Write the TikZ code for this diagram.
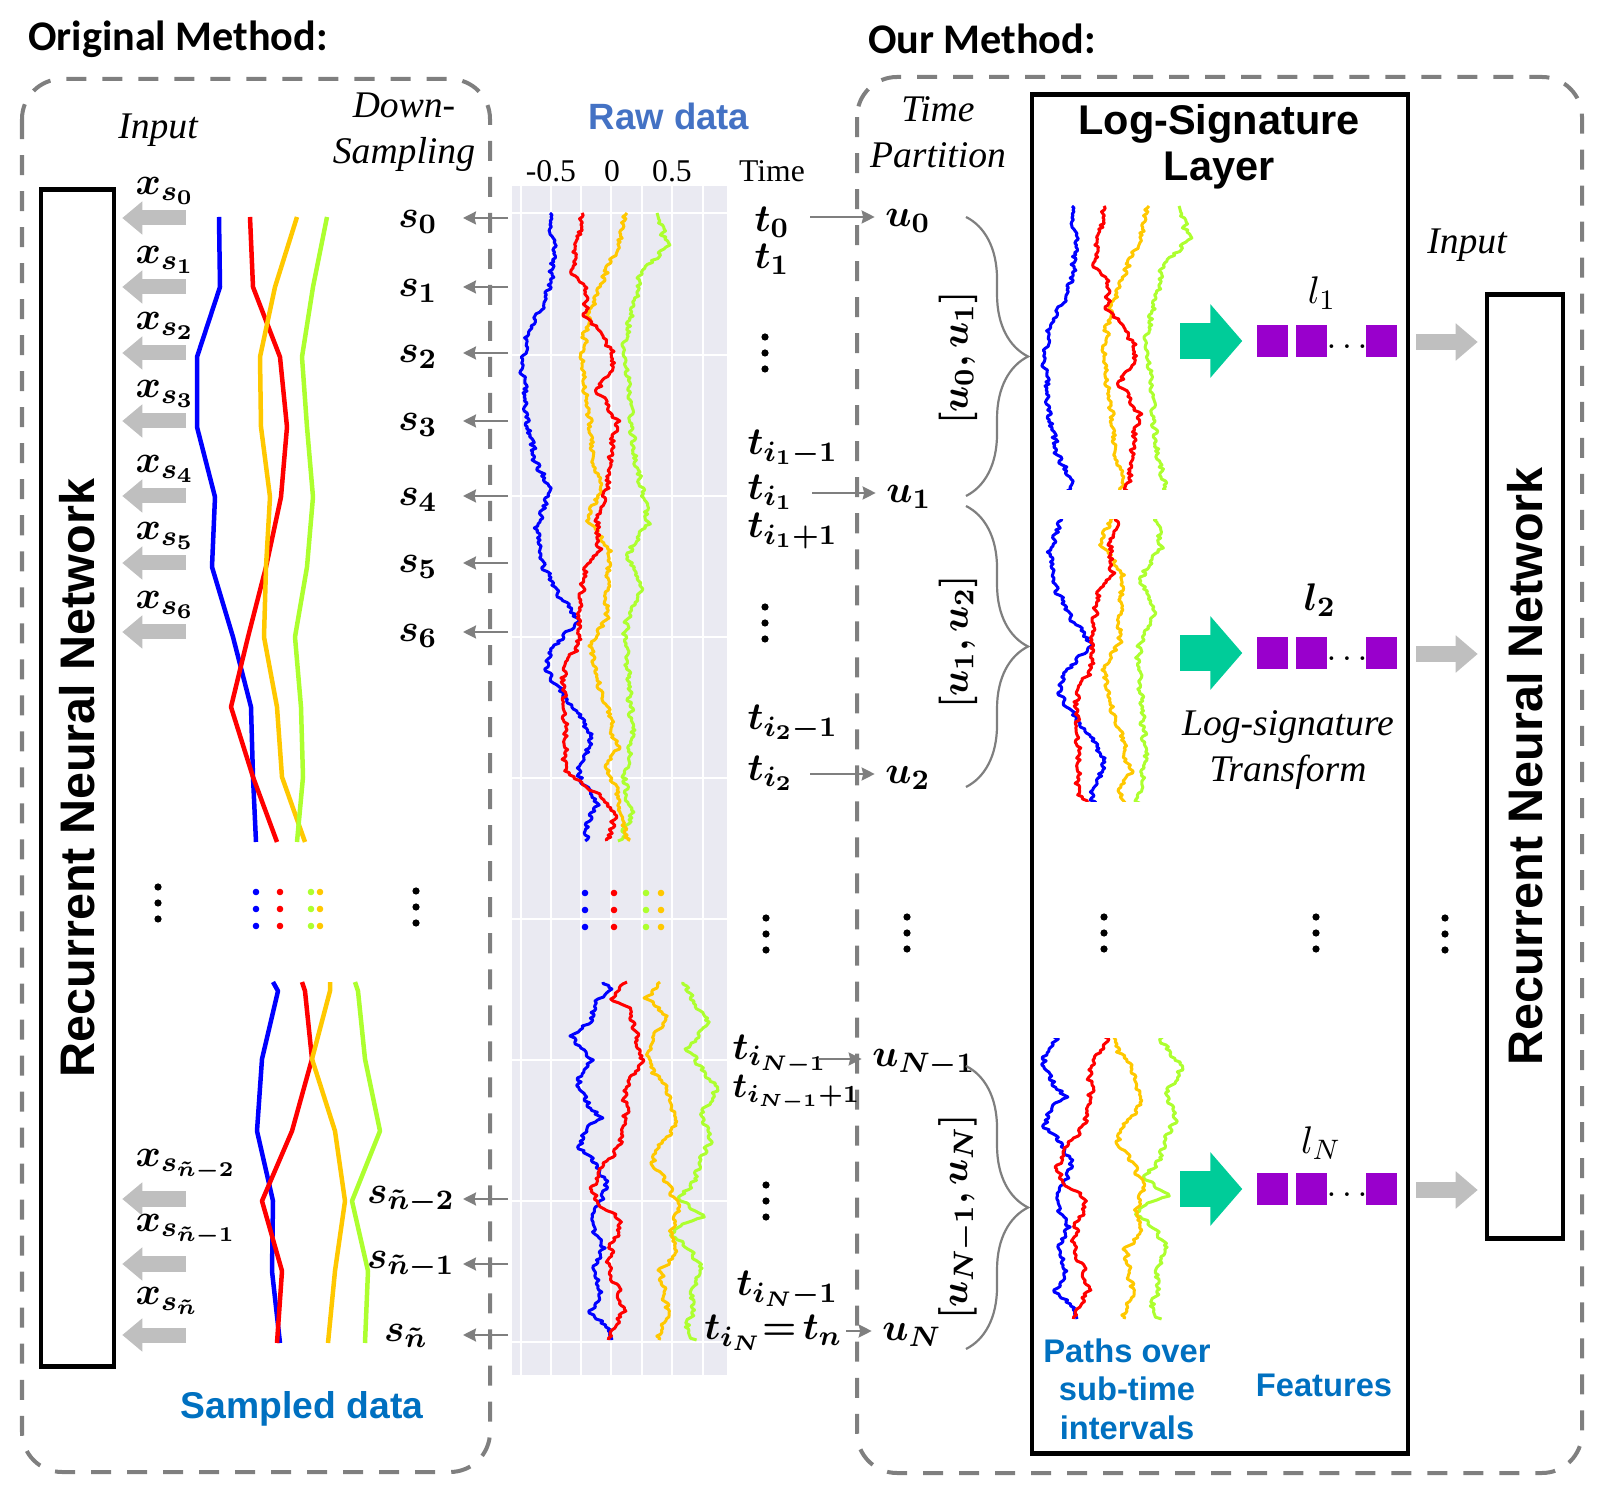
\documentclass[tikz,border=0pt]{standalone}
\usepackage{amsmath}
\usepackage{bm}
\usepackage{fontspec}
\setmainfont{Liberation Serif}
\newfontfamily\calfont{Carlito}
\newfontfamily\arfont{Liberation Sans}
\usetikzlibrary{positioning, arrows.meta, decorations.pathreplacing}

\definecolor{dgray}{HTML}{7F7F7F}
\definecolor{lgray}{HTML}{BFBFBF}
\definecolor{pblue}{HTML}{0000FF}
\definecolor{pred}{HTML}{FF0000}
\definecolor{pgold}{HTML}{FFC800}
\definecolor{plime}{HTML}{ADFF2F}
\definecolor{teal2}{HTML}{00CC99}
\definecolor{purp}{HTML}{9900CC}
\definecolor{rawblue}{HTML}{4472C4}
\definecolor{txtblue}{HTML}{0070C0}
\definecolor{plotbg}{HTML}{EAEAF2}

\newcommand\msize{\fontsize{11.2}{13}\selectfont}
\newcommand\isize{\fontsize{10.7}{13}\selectfont}
\newcommand\tsize{\fontsize{12}{14}\selectfont}

% jagged path through way points (x/y), stored in #1
\newcommand\mkwalk[4]{%
  \xdef#1{(#2,#3)}%
  \gdef\wjit{0}%
  \foreach \wx/\wy [remember=\wx as \px (initially #2), remember=\wy as \py (initially #3)] in {#4}{%
    \pgfmathtruncatemacro\nst{max(1,round(abs(\wy-\py)/2))}%
    \foreach \k in {1,...,\nst}{%
      \pgfmathsetmacro\wtmp{0.35*\wjit+2.9*rand}\xdef\wjit{\wtmp}%
      \pgfmathsetmacro\qx{\px+(\wx-\px)*\k/\nst+\wjit}%
      \pgfmathsetmacro\qy{\py+(\wy-\py)*\k/\nst}%
      \xdef#1{#1 -- (\qx,\qy)}%
    }%
  }%
}
\pgfmathsetseed{11}
% raw data, upper part
\mkwalk\wBlueA{550}{213}{553/250, 550/287, 540/310, 527/332, 522/365, 528/425, 535/460, 550/488, 537/528, 540/560, 557/591, 577/620, 553/649, 545/669, 573/707, 592/738, 578/774, 597/805, 588/823, 588/841}
\mkwalk\wRedA{582}{213}{578/240, 572/274, 588/292, 585/314, 603/336, 615/359, 598/390, 617/421, 610/457, 607/492, 598/519, 600/551, 590/560, 583/582, 578/622, 578/649, 563/662, 563/702, 567/738, 563/769, 600/796, 615/814, 608/841}
\mkwalk\wGoldA{627}{213}{618/242, 608/269, 597/296, 588/318, 582/359, 588/403, 593/448, 600/492, 587/519, 610/551, 607/582, 607/618, 590/644, 595/671, 610/716, 617/747, 607/769, 618/796, 628/841}
\mkwalk\wLimeA{657}{213}{667/247, 640/274, 632/314, 623/350, 630/394, 633/448, 643/492, 647/524, 627/555, 642/591, 625/626, 627/671, 633/738, 625/783, 632/814, 620/841}
% raw data, lower part
\mkwalk\wBlueB{603}{982}{612/989, 597/1001, 590/1022, 570/1036, 580/1046, 592/1060, 578/1080, 583/1097, 600/1118, 587/1128, 580/1147, 593/1162, 607/1183, 600/1203, 590/1224, 603/1248, 595/1268, 600/1292, 590/1311, 607/1327, 610/1340}
\mkwalk\wRedB{627}{982}{612/1001, 630/1008, 637/1036, 642/1060, 627/1087, 625/1114, 620/1142, 610/1159, 597/1169, 593/1190, 597/1203, 622/1220, 612/1244, 608/1272, 620/1292, 623/1313, 613/1330, 608/1340}
\mkwalk\wGoldB{660}{982}{647/998, 667/1018, 652/1039, 647/1063, 653/1073, 668/1090, 677/1118, 668/1135, 653/1155, 652/1166, 667/1183, 680/1207, 673/1231, 675/1251, 660/1272, 665/1292, 667/1313, 658/1340}
\mkwalk\wLimeB{683}{982}{697/1005, 708/1022, 688/1049, 700/1066, 717/1087, 702/1114, 710/1142, 697/1169, 692/1186, 678/1197, 705/1217, 680/1224, 670/1234, 693/1251, 702/1272, 690/1292, 693/1310, 687/1327, 695/1340}

\newcommand\rawtop{\draw[raw,plime] \wLimeA; \draw[raw,pgold] \wGoldA; \draw[raw,pblue] \wBlueA; \draw[raw,pred] \wRedA;}
\newcommand\rawbot{\draw[raw,plime] \wLimeB; \draw[raw,pgold] \wGoldB; \draw[raw,pblue] \wBlueB; \draw[raw,pred] \wRedB;}

\begin{document}
\begin{tikzpicture}[x=0.01cm, y=-0.01cm,
  dbox/.style={draw=dgray, line width=0.4mm, dash pattern=on 2mm off 1.6mm, rounded corners=4mm},
  rnnbox/.style={draw, line width=0.45mm, inner sep=0},
  rnntext/.style={font=\arfont\bfseries\fontsize{13.8}{15}\selectfont, rotate=90},
  bigarrow/.style={lgray, line width=1.5mm, -{Triangle[length=2mm,width=3.2mm]}},
  rarrow/.style={lgray, line width=1.6mm, -{Triangle[length=2.2mm,width=3.6mm]}},
  garrow/.style={dgray, line width=0.22mm, -{Stealth[length=1.3mm,width=1.3mm,inset=0.15mm]}},
  samp/.style={line width=0.45mm, line join=round},
  raw/.style={line width=0.3mm, line join=round},
  gline/.style={white, line width=0.15mm},
  mlab/.style={font=\msize, inner sep=0},
  itlab/.style={font=\isize\itshape, align=center, inner sep=0},
  ticklab/.style={font=\fontsize{9}{10}\selectfont, inner sep=0},
  bluetext/.style={text=txtblue, font=\arfont\bfseries\fontsize{10.6}{12}\selectfont, align=center, inner sep=0},
  smallblue/.style={bluetext, font=\arfont\bfseries\fontsize{9.3}{11}\selectfont},
  tealarrow/.style={teal2, line width=3.5mm, -{Triangle[length=3.2mm,width=7.2mm]}},
  feat/.style={fill=purp, minimum size=3.1mm, inner sep=0},
  brc/.style={dgray, line width=0.22mm, decorate, decoration={brace, amplitude=6.2mm}}]
\useasboundingbox (0,0) rectangle (1597,1486);

% titles
\node[font=\calfont\bfseries\tsize] (orig) at (178,39) {Original Method:};
\node[font=\calfont\bfseries\tsize] (ours) at (982,39) {Our Method:};
\draw[dbox] (22,79) rectangle (490,1472);
\draw[dbox] (857,77) rectangle (1582,1473);

% raw data plot
\fill[plotbg] (512,186) rectangle (727,1375);
\foreach \gx in {521,551,581,611,642,672,703} \draw[gline] (\gx,186) -- (\gx,1375);
\foreach \gy in {213,355,496,637,778,919,1060,1201,1342} \draw[gline] (512,\gy) -- (727,\gy);
\node[font=\arfont\bfseries\fontsize{10.4}{12}\selectfont, text=rawblue] (rawt) at (669,116) {Raw data};
\node[ticklab] (xm) at (551,171) {-0.5};
\node[ticklab] (xz) at (612,171) {0};
\node[ticklab] (xp) at (672,171) {0.5};
\node[ticklab] (tax) at (772,171) {Time};
\rawtop
\rawbot
\foreach \cx/\cc in {585/pblue, 614/pred, 646/plime, 661/pgold}
  \foreach \k in {0,1,2} \fill[\cc] (\cx,893+17*\k) circle[radius=0.33mm];

% left: RNN and sampled data
\node[rnnbox, minimum width=7.3mm, minimum height=117.6mm] (rnnL) at (77.5,778) {};
\node[rnntext] at (rnnL) {Recurrent Neural Network};
\node[itlab] (inL) at (158,130) {Input};
\node[itlab] (down) at (404,132) {Down-\\Sampling};
\foreach \i/\yy in {0/218,1/287,2/353,3/421,4/496,5/563,6/632} {
  \coordinate (xa\i) at (186,\yy);
  \draw[bigarrow, shorten >=0.6mm] (xa\i) -- (xa\i -| rnnL.east);
  \node[mlab, anchor=west] (x\i) at (135,\yy-27) {$\bm{x_{s_{\i}}}$};
  \node[mlab] (s\i) at (418,\yy+4) {$\bm{s_{\i}}$};
  \coordinate (sa\i) at (508,\yy);
  \coordinate (sb\i) at (463,\yy);
  \draw[garrow] (sa\i) -- (sb\i);
}
\foreach \i/\yy/\sx/\sub in {a/1199/411/\tilde{n}-2, b/1264/411/\tilde{n}-1, c/1335/406/\tilde{n}} {
  \coordinate (xa\i) at (186,\yy);
  \draw[bigarrow, shorten >=0.6mm] (xa\i) -- (xa\i -| rnnL.east);
  \node[mlab, anchor=west] (x\i) at (135,\yy-34) {$\bm{x_{s_{\sub}}}$};
  \node[mlab] (s\i) at (\sx,\yy+1) {$\bm{s_{\sub}}$};
  \coordinate (sa\i) at (508,\yy);
  \coordinate (sb\i) at (463,\yy);
  \draw[garrow] (sa\i) -- (sb\i);
}
\draw[samp, pblue] (219,217) -- (220,287) -- (197,357) -- (197,427) -- (215,497) -- (212,567) -- (233,637) -- (251,707) -- (253,777) -- (256,842);
\draw[samp, pred] (250,217) -- (253,287) -- (280,357) -- (287,427) -- (281,497) -- (266,567) -- (248,637) -- (231,707) -- (253,777) -- (277,842);
\draw[samp, pgold] (297,217) -- (275,287) -- (260,357) -- (261,427) -- (270,497) -- (266,567) -- (264,637) -- (277,707) -- (282,777) -- (305,842);
\draw[samp, plime] (327,217) -- (313,287) -- (302,357) -- (307,427) -- (313,497) -- (307,567) -- (295,637) -- (301,707) -- (303,777) -- (297,842);
\draw[samp, pblue] (273,982) -- (278,991) -- (262,1059) -- (257,1131) -- (273,1201) -- (272,1271) -- (280,1343);
\draw[samp, pred] (302,982) -- (305,991) -- (312,1059) -- (292,1131) -- (262,1201) -- (282,1271) -- (277,1343);
\draw[samp, pgold] (330,982) -- (330,991) -- (312,1059) -- (335,1131) -- (345,1201) -- (335,1271) -- (328,1343);
\draw[samp, plime] (355,982) -- (358,991) -- (365,1059) -- (380,1131) -- (352,1201) -- (368,1271) -- (365,1343);
\foreach \cx/\cc in {256/pblue, 280/pred, 311/plime, 320/pgold}
  \foreach \k in {0,1,2} \fill[\cc] (\cx,892+17*\k) circle[radius=0.33mm];
\node[bluetext] (sampt) at (302,1409) {Sampled data};

% vertical dots
\foreach \dx/\dy in {158/887, 416/891, 765/337, 765/607, 766/918, 766/1185, 907/917, 1104/917, 1316/917, 1445/918}
  \foreach \k in {0,1,2} \fill (\dx,\dy+16*\k) circle[radius=0.36mm];

% time partition
\node[itlab] (tpart) at (938,132) {Time\\Partition};
\node[mlab, anchor=west] (t0) at (754,222) {$\bm{t_0}$};
\node[mlab, anchor=west] (t1) at (754,259) {$\bm{t_1}$};
\node[mlab, anchor=west] (ti1m) at (747,448) {$\bm{t_{i_1-1}}$};
\node[mlab, anchor=west] (ti1) at (747,492) {$\bm{t_{i_1}}$};
\node[mlab, anchor=west] (ti1p) at (747,531) {$\bm{t_{i_1+1}}$};
\node[mlab, anchor=west] (ti2m) at (747,723) {$\bm{t_{i_2-1}}$};
\node[mlab, anchor=west] (ti2) at (747,773) {$\bm{t_{i_2}}$};
\node[mlab, anchor=west] (tiNm) at (732,1055) {$\bm{t_{i_{N-1}}}$};
\node[mlab, anchor=west, font=\fontsize{10.2}{12}\selectfont] (tiNp) at (732,1093) {$\bm{t_{i_{N-1}+1}}$};
\node[mlab, anchor=west] (tiNl) at (736,1289) {$\bm{t_{i_N-1}}$};
\node[mlab, anchor=east] (tn) at (843,1333) {$\bm{t_{i_N}{=}\,t_n}$};
\node[mlab] (u0) at (908,221) {$\bm{u_0}$};
\node[mlab] (u1) at (909,497) {$\bm{u_1}$};
\node[mlab] (u2) at (908,778) {$\bm{u_2}$};
\node[mlab] (uNm) at (924,1063) {$\bm{u_{N-1}}$};
\node[mlab] (uN) at (912,1335) {$\bm{u_N}$};
\foreach \a/\b/\ax/\ay in {t0/u0/810/217, ti1/u1/812/493, ti2/u2/810/774, tiNm/uNm/818/1059, tn/uN/846/1331} {
  \coordinate (ta\a) at (\ax,\ay);
  \draw[garrow, shorten >=1mm] (ta\a) -- (ta\a -| \b.west);
}
\draw[brc] (966,217) -- (966,496);
\draw[brc] (966,506) -- (966,787);
\draw[brc] (966,1066) -- (966,1349);
\node[mlab, rotate=90] (iv1) at (958,358) {$\bm{[u_0,u_1]}$};
\node[mlab, rotate=90] (iv2) at (958,642) {$\bm{[u_1,u_2]}$};
\node[mlab, rotate=90] (iv3) at (958,1217) {$\bm{[u_{N-1},u_N]}$};

% log-signature layer
\node[rnnbox, minimum width=37.6mm, minimum height=135.8mm] (lsbox) at (1220,774) {};
\node[font=\arfont\bfseries\fontsize{11.8}{13}\selectfont, align=center] (lstitle) at (1219,147) {Log-Signature\\Layer};
\begin{scope}[shift={(522,-7)}]
  \clip (400,213) rectangle (800,497);
  \rawtop
\end{scope}
\begin{scope}[shift={(513,24)}]
  \clip (400,496) rectangle (800,778);
  \rawtop
\end{scope}
\begin{scope}[shift={(465,-21)}]
  \clip (400,1059) rectangle (800,1345);
  \rawbot
\end{scope}
\node[mlab] (l1) at (1322,293) {$l_1$};
\node[mlab] (l2) at (1320,600) {$\bm{l_2}$};
\node[mlab] (lN) at (1321,1143) {$l_N$};
\node[itlab] (lstr) at (1288,750) {Log-signature\\Transform};
\node[smallblue] (paths) at (1127,1389) {Paths over\\sub-time\\intervals};
\node[smallblue] (feats) at (1324,1385) {Features};

% right RNN
\node[rnnbox, minimum width=7.6mm, minimum height=94.3mm] (rnnR) at (1525,766.5) {};
\node[rnntext] at (rnnR) {Recurrent Neural Network};
\node[itlab] (inR) at (1467,245) {Input};
\foreach \r/\yy in {1/341, 2/653, 3/1189} {
  \node[feat] (f\r a) at (1272.5,\yy) {};
  \node[feat] (f\r b) at (1311.5,\yy) {};
  \node[feat] (f\r c) at (1381.5,\yy) {};
  \node[inner sep=0] (fd\r) at (1347,\yy+6) {$\ldots$};
  \coordinate (ga\r) at (1180,\yy);
  \draw[tealarrow, shorten >=1.4mm] (ga\r) -- (f\r a.west);
  \coordinate (ra\r) at (1416,\yy+1);
  \draw[rarrow, shorten >=0.7mm] (ra\r) -- (ra\r -| rnnR.west);
}
\end{tikzpicture}
\end{document}
